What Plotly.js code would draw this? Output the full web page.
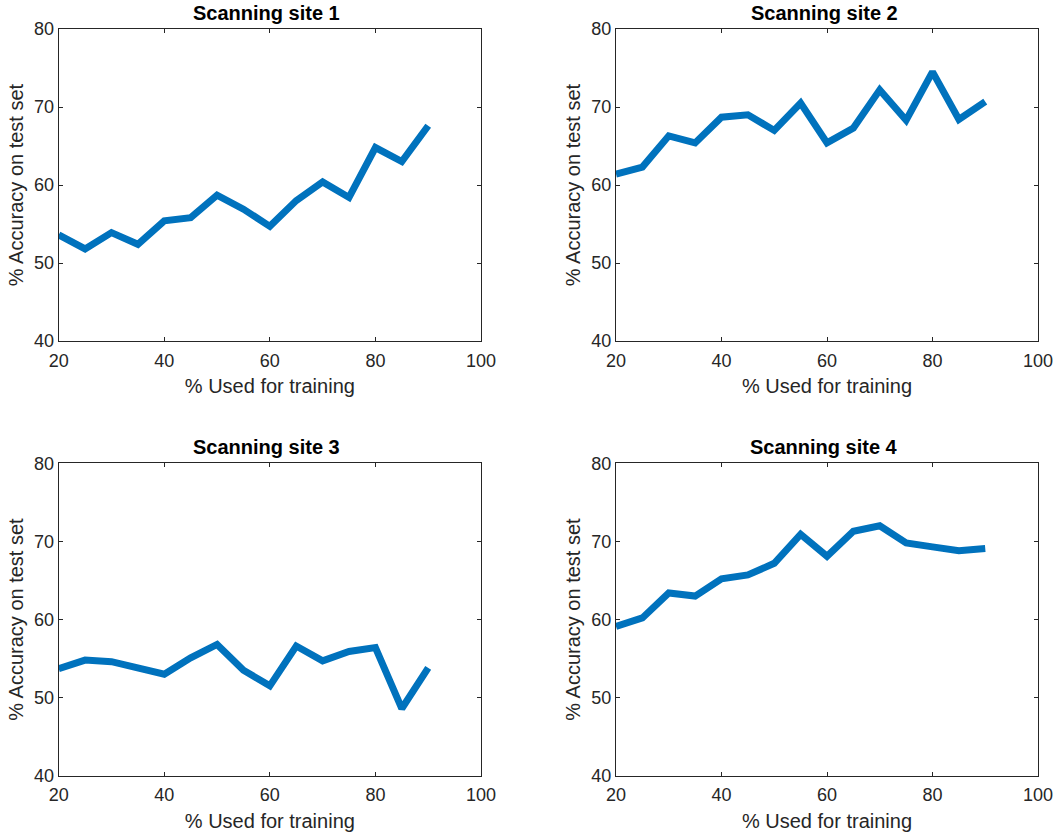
<!DOCTYPE html>
<html>
<head>
<meta charset="utf-8">
<script src="https://cdn.plot.ly/plotly-3.0.1.min.js"></script>
<style>
  html, body { margin: 0; padding: 0; background: #ffffff; }
  #chart { width: 1058px; height: 832px; }
</style>
</head>
<body>
<div id="chart"></div>
<script>
// Share of data used for training (%)
const trainPct = [20, 25, 30, 35, 40, 45, 50, 55, 60, 65, 70, 75, 80, 85, 90];

// Accuracy on the held-out test set (%) for each scanning site
const site1 = [53.6, 51.8, 53.9, 52.4, 55.4, 55.8, 58.7, 56.9, 54.7, 58.0, 60.4, 58.4, 64.8, 63.0, 67.6];
const site2 = [61.4, 62.3, 66.3, 65.4, 68.7, 69.0, 67.0, 70.5, 65.4, 67.3, 72.2, 68.3, 74.5, 68.4, 70.7];
const site3 = [53.7, 54.8, 54.6, 53.9, 53.0, 55.1, 56.8, 53.5, 51.5, 56.6, 54.7, 55.9, 56.4, 48.6, 53.8];
const site4 = [59.1, 60.2, 63.4, 63.0, 65.2, 65.7, 67.2, 70.9, 68.1, 71.3, 72.0, 69.8, 69.3, 68.8, 69.1];

const siteTitles = ['Scanning site 1', 'Scanning site 2', 'Scanning site 3', 'Scanning site 4'];
const xLabel = '% Used for training';
const yLabel = '% Accuracy on test set';

const W = 1058, H = 832;
const lineBlue = '#0072BD';
const inkGray = '#262626';
const baseFont = 'Liberation Sans, Arial, Helvetica, sans-serif';

// Panel placement in pixels: [left, right, top, bottom]
const panels = [
  [58.7, 481, 29, 341],
  [616, 1038, 29, 341],
  [58.7, 481, 463.3, 775.7],
  [616, 1038, 463.3, 775.7]
];

const series = [site1, site2, site3, site4];
const traces = series.map((ys, i) => ({
  type: 'scatter',
  mode: 'lines',
  x: trainPct,
  y: ys,
  xaxis: i === 0 ? 'x' : 'x' + (i + 1),
  yaxis: i === 0 ? 'y' : 'y' + (i + 1),
  line: { color: lineBlue, width: 7 },
  hoverinfo: 'x+y',
  showlegend: false
}));

const layout = {
  width: W,
  height: H,
  margin: { l: 0, r: 0, t: 0, b: 0, pad: 0 },
  paper_bgcolor: '#ffffff',
  plot_bgcolor: '#ffffff',
  font: { family: baseFont, color: inkGray },
  showlegend: false,
  annotations: []
};

panels.forEach((p, i) => {
  const [l, r, t, b] = p;
  const sfx = i === 0 ? '' : String(i + 1);
  const xName = 'xaxis' + sfx, yName = 'yaxis' + sfx;
  const xRef = 'x' + sfx, yRef = 'y' + sfx;

  layout[xName] = {
    domain: [l / W, r / W],
    anchor: yRef,
    range: [20, 100],
    tickmode: 'linear', tick0: 20, dtick: 20,
    ticks: 'inside', ticklen: 4, tickwidth: 1, tickcolor: inkGray,
    ticklabelstandoff: 3,
    showline: true, linecolor: inkGray, linewidth: 1, mirror: 'ticks',
    showgrid: false, zeroline: false,
    tickfont: { size: 18, color: inkGray, family: baseFont },
    title: { text: xLabel, font: { size: 20, color: inkGray, family: baseFont }, standoff: 9 },
    automargin: false,
    fixedrange: true
  };
  layout[yName] = {
    domain: [1 - b / H, 1 - t / H],
    anchor: xRef,
    range: [40, 80],
    tickmode: 'linear', tick0: 40, dtick: 10,
    ticks: 'inside', ticklen: 4, tickwidth: 1, tickcolor: inkGray,
    showline: true, linecolor: inkGray, linewidth: 1, mirror: 'ticks',
    showgrid: false, zeroline: false,
    tickfont: { size: 18, color: inkGray, family: baseFont },
    title: { text: yLabel, font: { size: 20, color: inkGray, family: baseFont }, standoff: 5 },
    automargin: false,
    fixedrange: true
  };

  // Panel heading above each axes box
  layout.annotations.push({
    text: '<b>' + siteTitles[i] + '</b>',
    xref: 'paper', yref: 'paper',
    x: (l + r) / 2 / W - 3 / W,
    y: 1 - (t - 16) / H,
    xanchor: 'center', yanchor: 'middle',
    showarrow: false,
    font: { size: 20, color: '#000000', family: baseFont }
  });
});

Plotly.newPlot('chart', traces, layout, { displayModeBar: false, staticPlot: true });
</script>
</body>
</html>
